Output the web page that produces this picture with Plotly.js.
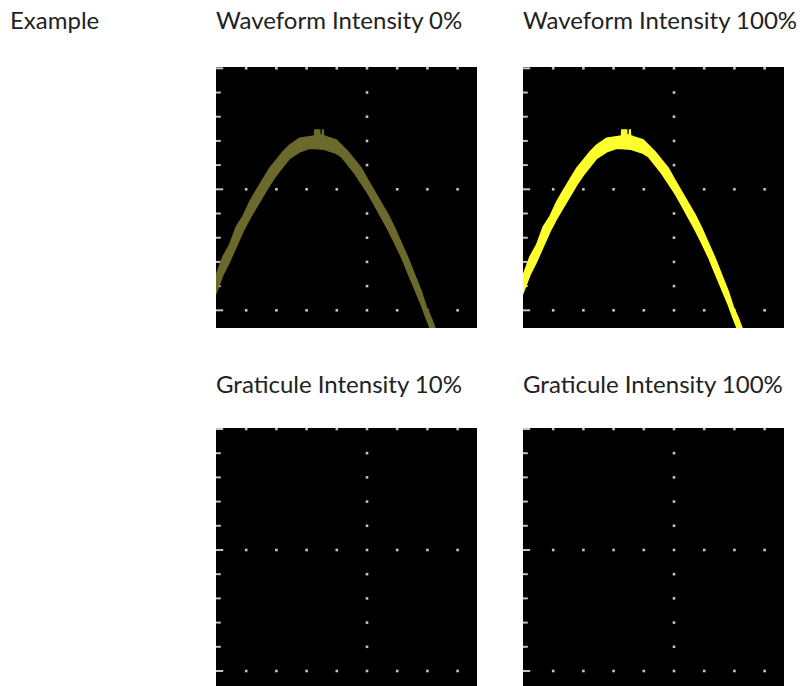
<!DOCTYPE html>
<html>
<head>
<meta charset="utf-8">
<script src="https://cdn.plot.ly/plotly-3.0.1.min.js"></script>
<style>html,body{margin:0;padding:0;background:#fff;}#chart{width:812px;height:686px;}</style>
</head>
<body>
<div id="chart"></div>
<script>
// Panel titles
const rowLabel = "Example";
const panelTitles = ["Waveform Intensity 0%", "Waveform Intensity 100%", "Graticule Intensity 10%", "Graticule Intensity 100%"];

// Waveform band (in screen divisions): x, upper edge, lower edge
const waveX     = [-5.20,-4.99,-4.77,-4.55,-4.33,-4.11,-3.88,-3.66,-3.44,-3.22,-3.00,-2.78,-2.56,-2.23,-1.90,-1.74,-1.73,-1.57,-1.56,-1.48,-1.47,-1.45,-1.44,-1.35,-1.02,-0.85,-0.63,-0.41,-0.19, 0.03, 0.25, 0.47, 0.70, 0.92, 1.14, 1.36, 1.58, 1.80, 1.96, 2.13, 2.30];
const waveUpper = [-4.25,-3.54,-2.79,-2.30,-1.55,-1.13,-0.51,-0.03, 0.45, 0.87, 1.21, 1.55, 1.83, 2.11, 2.17, 2.20, 2.45, 2.45, 2.24, 2.24, 2.45, 2.45, 2.22, 2.17, 2.04, 1.83, 1.55, 1.21, 0.87, 0.38,-0.10,-0.58,-1.06,-1.61,-2.22,-2.85,-3.54,-4.23,-4.85,-5.33,-5.90];
const waveLower = [-4.95,-4.23,-3.54,-2.99,-2.37,-1.75,-1.20,-0.72,-0.24, 0.18, 0.59, 0.93, 1.28, 1.55, 1.69, 1.69, 1.69, 1.69, 1.69, 1.66, 1.66, 1.66, 1.66, 1.62, 1.49, 1.35, 1.00, 0.66, 0.25,-0.17,-0.65,-1.13,-1.68,-2.23,-2.80,-3.47,-4.09,-4.78,-5.33,-5.81,-6.40];
const waveColors = ["#6b6a2c", "#ffff2e"];

// Graticule (divisions)
const hLineY = [5, 0, -5];
const hDotX = [-4, -3, -2, -1, 0, 1, 2, 3];
const vLineX = [0];
const vDotY = [4, 3, 2, 1, -1, -2, -3, -4];
const edgeTickY = [5, 4, 3, 2, 1, 0, -1, -2, -3, -4, -5];
const edgeMajorY = [5, 0, -5];

const axes = [["x","y"],["x2","y2"],["x3","y3"],["x4","y4"]];
const traces = [];
const dotColor = "#c4c4c4";

axes.forEach(([xa, ya], i) => {
  const gx = [], gy = [];
  hLineY.forEach(y => hDotX.forEach(x => { gx.push(x); gy.push(y); }));
  vLineX.forEach(x => vDotY.forEach(y => { gx.push(x); gy.push(y); }));
  traces.push({x: gx, y: gy, xaxis: xa, yaxis: ya, mode: "markers", type: "scatter",
    marker: {symbol: "square", size: 2.6, color: dotColor}, hoverinfo: "skip", showlegend: false});
  const minorY = edgeTickY.filter(y => !edgeMajorY.includes(y));
  traces.push({x: minorY.map(() => -5 + 2/30.2), y: minorY, xaxis: xa, yaxis: ya, mode: "markers", type: "scatter",
    marker: {symbol: "line-ew", size: 4, line: {width: 2, color: dotColor}}, hoverinfo: "skip", showlegend: false});
  traces.push({x: edgeMajorY.map(() => -5 + 3/30.2), y: edgeMajorY, xaxis: xa, yaxis: ya, mode: "markers", type: "scatter",
    marker: {symbol: "line-ew", size: 6, line: {width: 2, color: dotColor}}, hoverinfo: "skip", showlegend: false});
});

[0, 1].forEach(i => {
  const [xa, ya] = axes[i];
  traces.push({x: waveX, y: waveLower, xaxis: xa, yaxis: ya, mode: "lines", type: "scatter",
    line: {color: waveColors[i], width: 1.5}, hoverinfo: "skip", showlegend: false});
  traces.push({x: waveX, y: waveUpper, xaxis: xa, yaxis: ya, mode: "lines", type: "scatter",
    fill: "tonexty", fillcolor: waveColors[i], line: {color: waveColors[i], width: 1.5}, hoverinfo: "skip", showlegend: false});
});

const W = 812, H = 686;
const px = v => v / W;
const py = v => 1 - v / H;
const topPanelRange = [-5.731, 5.054];
const botPanelRange = [-5.62, 5.041];
const xRange = [-5, 3.642];

function ax(domain, range) {
  return {domain: domain, range: range, showgrid: false, zeroline: false, showticklabels: false,
    ticks: "", showline: false, fixedrange: true};
}

const layout = {
  width: W, height: H,
  margin: {l: 0, r: 0, t: 0, b: 0},
  paper_bgcolor: "#ffffff",
  plot_bgcolor: "#000000",
  showlegend: false,
  xaxis:  Object.assign(ax([px(216), px(477)], xRange), {anchor: "y"}),
  yaxis:  Object.assign(ax([py(328), py(67)], topPanelRange), {anchor: "x"}),
  xaxis2: Object.assign(ax([px(523), px(784)], xRange), {anchor: "y2"}),
  yaxis2: Object.assign(ax([py(328), py(67)], topPanelRange), {anchor: "x2"}),
  xaxis3: Object.assign(ax([px(216), px(477)], xRange), {anchor: "y3"}),
  yaxis3: Object.assign(ax([py(686), py(428)], botPanelRange), {anchor: "x3"}),
  xaxis4: Object.assign(ax([px(523), px(784)], xRange), {anchor: "y4"}),
  yaxis4: Object.assign(ax([py(686), py(428)], botPanelRange), {anchor: "x4"}),
  font: {family: "Lato, 'Open Sans', sans-serif", color: "#222222", size: 24},
  annotations: [
    {text: rowLabel, x: px(8), y: py(20)},
    {text: panelTitles[0], x: px(214), y: py(20)},
    {text: panelTitles[1], x: px(521), y: py(20)},
    {text: panelTitles[2], x: px(214), y: py(383)},
    {text: panelTitles[3], x: px(521), y: py(383)}
  ].map(a => Object.assign({xref: "paper", yref: "paper", xanchor: "left", yanchor: "middle", showarrow: false}, a))
};

Plotly.newPlot("chart", traces, layout, {staticPlot: true, displayModeBar: false});
</script>
</body>
</html>
